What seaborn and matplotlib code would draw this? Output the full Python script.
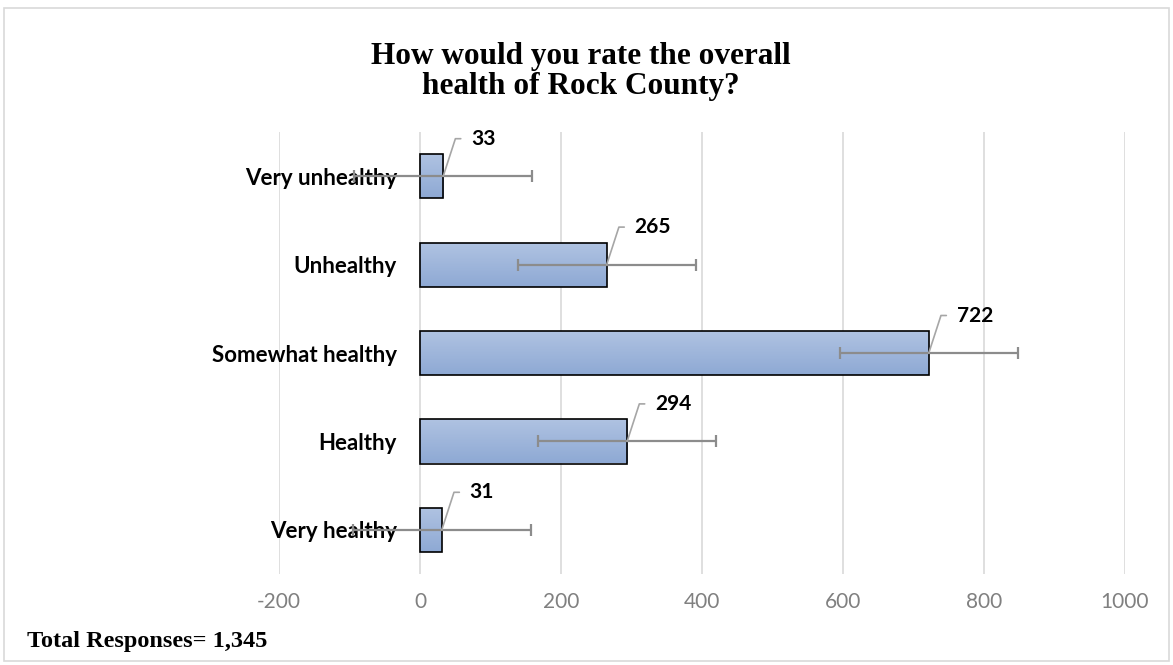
import numpy as np
import pandas as pd
import matplotlib
matplotlib.use("Agg")
import matplotlib.pyplot as plt
import seaborn as sns
from matplotlib.patches import Rectangle

categories = ["Very unhealthy", "Unhealthy", "Somewhat healthy", "Healthy", "Very healthy"]
counts = [33, 265, 722, 294, 31]
xticks = [-200, 0, 200, 400, 600, 800, 1000]
title = "How would you rate the overall\nhealth of Rock County?"
footnote = "Total Responses= 1,345"

# Excel-style "Standard Error" error bar: std of the series / sqrt(n)
vals = np.array(counts, dtype=float)
std_err = vals.std(ddof=1) / np.sqrt(len(vals))

df = pd.DataFrame({"category": categories, "count": counts})

sns.set_theme(style="white")
plt.rcParams["font.family"] = ["Lato", "DejaVu Sans"]
plt.rcParams["text.color"] = "black"

W, H = 1173, 665
fig = plt.figure(figsize=(W / 100, H / 100), dpi=100)
ax = fig.add_axes([279 / W, 1 - 574 / H, (1124.7 - 279) / W, (574 - 132) / H])

sns.barplot(data=df, x="count", y="category", orient="h", order=categories,
            width=0.5, color="#9db3da", edgecolor="black", linewidth=1.2,
            errorbar=None, ax=ax, zorder=2)

ax.set_xlim(-200, 1000)
ax.set_ylim(4.5, -0.5)

# gradient fill inside the bars
grad = np.linspace(0, 1, 100).reshape(-1, 1)
cmap = matplotlib.colors.LinearSegmentedColormap.from_list("g", ["#b0c3e2", "#8ea9d4"])
for p in ax.patches:
    x0, y0 = p.get_x(), p.get_y()
    w, h = p.get_width(), p.get_height()
    im = ax.imshow(grad, extent=[x0, x0 + w, y0 + h, y0], cmap=cmap,
                   aspect="auto", zorder=1.5, origin="upper")
    im.set_clip_path(p)
    p.set_facecolor("none")
    p.set_zorder(2)
ax.set_xlim(-200, 1000)
ax.set_ylim(4.5, -0.5)

# error bars
ax.errorbar(counts, range(len(categories)), xerr=std_err, fmt="none",
            ecolor="#8c8c8c", elinewidth=1.6, capsize=4, capthick=1.6, zorder=3)

# data labels with leader lines
for i, v in enumerate(counts):
    ax.annotate(str(v), xy=(v, i), xytext=(20, 27), textcoords="offset points",
                ha="left", va="center", fontsize=15, fontweight="bold", color="black",
                arrowprops=dict(arrowstyle="-", color="#a6a6a6", lw=1.2,
                                connectionstyle="angle,angleA=0,angleB=72,rad=0",
                                shrinkA=5, shrinkB=0),
                zorder=4)

ax.set_xticks(xticks)
ax.set_xticklabels([str(t) for t in xticks], fontsize=15, color="#808080")
ax.tick_params(axis="x", length=0, pad=13)
ax.tick_params(axis="y", length=0, pad=-85)
for lab in ax.get_yticklabels():
    lab.set_fontweight("bold")
    lab.set_fontsize(16)
    lab.set_color("black")
    lab.set_ha("right")
ax.set_xlabel("")
ax.set_ylabel("")
ax.grid(axis="x", color="#d9d9d9", linewidth=1.2)
ax.grid(axis="y", visible=False)
ax.set_axisbelow(True)
for s in ax.spines.values():
    s.set_visible(False)

fig.text(581 / W, 1 - 94 / H, title, ha="center", va="baseline", color="black",
         fontsize=22.5, fontweight="bold", family="Liberation Serif", linespacing=1.05)
fig.text(27 / W, 1 - 647 / H, footnote, ha="left", va="baseline", color="black",
         fontsize=17.5, fontweight="bold", family="Liberation Serif")

fig.patches.append(Rectangle((4 / W, 4 / H), (W - 8) / W, (H - 12) / H,
                             transform=fig.transFigure, fill=False,
                             edgecolor="#d9d9d9", linewidth=1.2))

fig.savefig("out.png", dpi=100)
